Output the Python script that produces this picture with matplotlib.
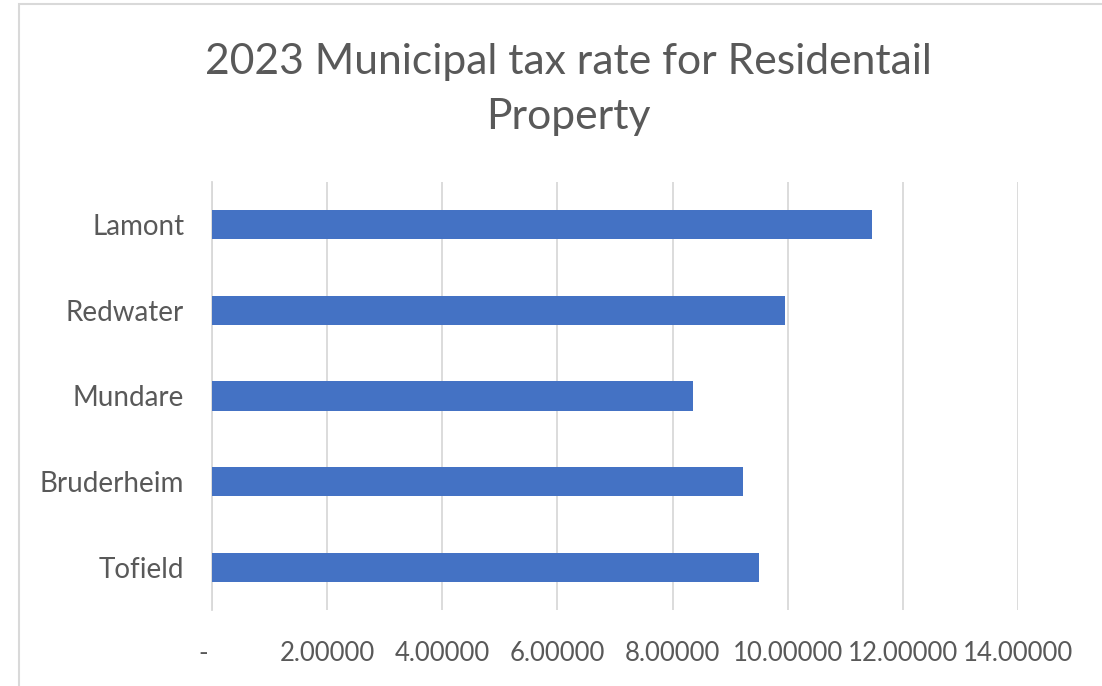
import matplotlib
matplotlib.use("Agg")
import matplotlib.pyplot as plt
from matplotlib.patches import Rectangle
from matplotlib.ticker import FuncFormatter

towns = ["Tofield", "Bruderheim", "Mundare", "Redwater", "Lamont"]
tax_rates = [9.50, 9.23, 8.36, 9.96, 11.47]
x_ticks = [0, 2, 4, 6, 8, 10, 12, 14]

title = "2023 Municipal tax rate for Residentail\nProperty"
text_color = "#595959"
bar_color = "#4472C4"
grid_color = "#D9D9D9"

plt.rcParams["font.family"] = ["Lato", "DejaVu Sans"]

W, H = 1102, 686
fig = plt.figure(figsize=(W / 100, H / 100), dpi=100)

# chart border (only top/left visible in the crop)
fig.patches.append(Rectangle((19 / W, -0.1), 1.0, 1.1 - 4 / H, transform=fig.transFigure,
                             fill=False, edgecolor="#D9D9D9", linewidth=1.5))

ax = fig.add_axes([212 / W, 1 - 610 / H, (1018 - 212) / W, (610 - 182) / H])

ax.barh(range(len(towns)), tax_rates, height=0.34, color=bar_color, zorder=3)

ax.set_xlim(0, 14)
ax.set_ylim(-0.5, len(towns) - 0.5)
ax.set_xticks(x_ticks)
ax.xaxis.set_major_formatter(FuncFormatter(lambda v, p: "" if v == 0 else f"{v:.5f}"))
ax.set_yticks(range(len(towns)))
ax.set_yticklabels(towns)

ax.grid(axis="x", color=grid_color, linewidth=1.3, zorder=0)
for s in ["top", "right", "bottom"]:
    ax.spines[s].set_visible(False)
ax.spines["left"].set_color(grid_color)
ax.spines["left"].set_linewidth(1.3)

ax.tick_params(axis="both", length=0, colors=text_color)
ax.tick_params(axis="y", pad=20, labelsize=20)
ax.tick_params(axis="x", pad=22, labelsize=18.5)

# zero shown as a dash, a bit left of the axis (accounting style)
ax.annotate("-", xy=(0, 0), xycoords=("data", "axes fraction"), xytext=(-6, -22),
            textcoords="offset points", ha="center", va="top", fontsize=18.5,
            color=text_color)

fig.text(568 / W, 1 - 89.5 / H, title, ha="center", va="center", fontsize=30.7,
         color=text_color, linespacing=1.58)

fig.savefig("out.png", dpi=100)
